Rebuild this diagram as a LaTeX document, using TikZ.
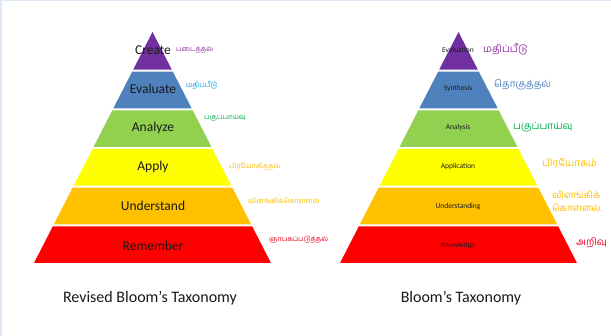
\documentclass[tikz,border=0pt]{standalone}
\usepackage{fontspec}
\setmainfont{Carlito}
\newfontfamily\tamil[Script=Tamil]{Hind Madurai}
\definecolor{cpurple}{HTML}{7030A0}
\definecolor{cblue}{HTML}{4F81BD}
\definecolor{cgreen}{HTML}{92D050}
\definecolor{cyellow}{HTML}{FFFF00}
\definecolor{corange}{HTML}{FFC000}
\definecolor{cred}{HTML}{FF0000}
\definecolor{tpurple}{HTML}{9030A0}
\definecolor{tlblue}{HTML}{00A0E8}
\definecolor{tgreen}{HTML}{00B050}
\definecolor{tyellow}{HTML}{FFC000}
\definecolor{tred}{HTML}{F00020}
\definecolor{framec}{HTML}{DDE9F6}
\definecolor{txt}{HTML}{1A1A1A}
\begin{document}
\begin{tikzpicture}[x=1pt,y=-1pt,
  big/.style={text=txt,font=\fontsize{13.5}{15}\selectfont,inner sep=0pt},
  small/.style={text=txt,font=\fontsize{7.5}{9}\selectfont,inner sep=0pt},
  tl/.style={anchor=west,inner sep=0pt,font=\tamil\fontsize{7}{8}\selectfont},
  tr/.style={anchor=west,inner sep=0pt,font=\tamil\fontsize{10}{13}\selectfont,align=left},
  captxt/.style={text=txt,font=\fontsize{16}{19}\selectfont,inner sep=0pt}]
\useasboundingbox (0,0) rectangle (611,336);
\fill[white] (0,0) rectangle (611,336);
\draw[framec,line width=1.5pt] (0.75,336) -- (0.75,0.75) -- (611,0.75);
\foreach \cx in {152.5,458.5}{
  \foreach \i/\col in {0/cpurple,1/cblue,2/cgreen,3/cyellow,4/corange,5/cred}{
    \pgfmathsetmacro\yt{32+\i*38.6667+min(\i,1)}
    \pgfmathsetmacro\yb{32+(\i+1)*38.6667-1}
    \pgfmathsetmacro\wt{(\yt-32)*0.5129}
    \pgfmathsetmacro\wb{(\yb-32)*0.5129}
    \pgfmathsetmacro\xa{\cx-\wt}
    \pgfmathsetmacro\xb{\cx+\wt}
    \pgfmathsetmacro\xc{\cx+\wb}
    \pgfmathsetmacro\xd{\cx-\wb}
    \fill[\col] (\xa pt,-\yt pt) -- (\xb pt,-\yt pt) -- (\xc pt,-\yb pt) -- (\xd pt,-\yb pt) -- cycle;
  }
}
% left pyramid labels
\node[big] (create) at (153,50) {Create};
\node[big] (evaluate) at (153,89) {Evaluate};
\node[big] (analyze) at (153,128) {Analyze};
\node[big] (apply) at (153,167) {Apply};
\node[big] (understand) at (153,206) {Understand};
\node[big] (remember) at (153,246) {Remember};
% right pyramid labels
\node[small] (evaluation) at (458,50) {Evaluation};
\node[small] (synthesis) at (458,89) {Synthesis};
\node[small] (analysis) at (458,128) {Analysis};
\node[small] (application) at (458,167) {Application};
\node[small] (understanding) at (458,207) {Understanding};
\node[small] (knowledge) at (458,246) {Knowledge};
% left tamil
\node[tl,text=tpurple] (lt1) at (176,50) {படைத்தல்};
\node[tl,text=tlblue] (lt2) at (186,85) {மதிப்பீடு};
\node[tl,text=tgreen] (lt3) at (204,118) {பகுப்பாய்வு};
\node[tl,text=tyellow] (lt4) at (229,166) {பிரயோகித்தல்};
\node[tl,text=tyellow] (lt5) at (248,201) {விளங்கிக்கொள்ளல்};
\node[tl,text=tred] (lt6) at (269,240) {ஞாபகப்படுத்தல்};
% right tamil
\node[tr,text=tpurple] (rt1) at (483,49) {மதிப்பீடு};
\node[tr,text=cblue] (rt2) at (494,85) {தொகுத்தல்};
\node[tr,text=tgreen] (rt3) at (513,127) {பகுப்பாய்வு};
\node[tr,text=tyellow] (rt4) at (542,163) {பிரயோகம்};
\node[tr,text=tyellow,font=\tamil\fontsize{9.5}{13}\selectfont] (rt5) at (552,201) {விளங்கிக்\\கொள்ளல்.};
\node[tr,text=tred] (rt6) at (576,243) {அறிவு};
% captions
\node[captxt] (revised) at (150,298) {Revised Bloom’s Taxonomy};
\node[captxt] (bloom) at (461,298) {Bloom’s Taxonomy};
\end{tikzpicture}
\end{document}
